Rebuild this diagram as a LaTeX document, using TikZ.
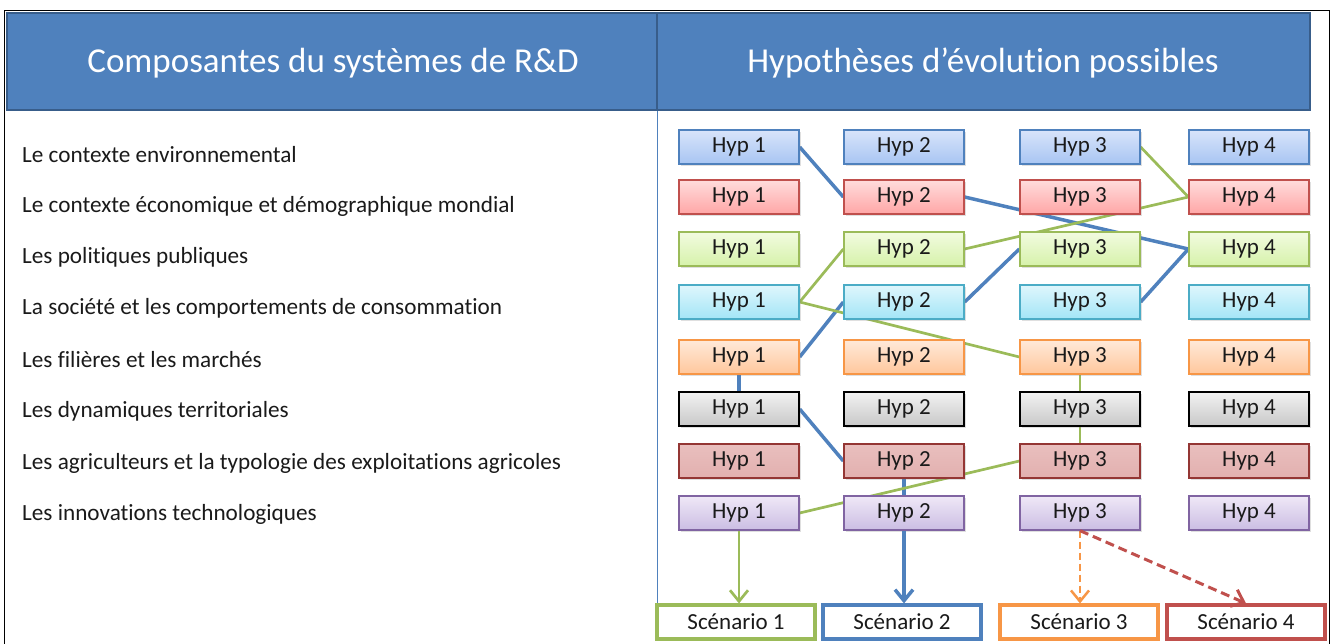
\documentclass[tikz,border=0pt]{standalone}
\usepackage{fontspec}
\setmainfont{Carlito}[Ligatures=NoCommon]
\usetikzlibrary{shadows,arrows.meta,backgrounds}
\definecolor{hdr}{HTML}{4F81BD}
\definecolor{hdrdark}{HTML}{385D8A}
\definecolor{cblue}{HTML}{4F81BD}
\definecolor{cred}{HTML}{C0504D}
\definecolor{cgreen}{HTML}{9BBB59}
\definecolor{ccyan}{HTML}{4BACC6}
\definecolor{corange}{HTML}{F79646}
\definecolor{cpurple}{HTML}{8064A2}
\definecolor{cdred}{HTML}{943634}
\definecolor{lblue}{HTML}{4F81BD}
\definecolor{textc}{HTML}{1A1A1A}
\begin{document}
\begin{tikzpicture}[x=1pt,y=-1pt,
  hyp/.style={draw, line width=1.3pt, minimum width=120pt, minimum height=34pt, inner sep=0pt,
    font=\fontsize{23}{26}\selectfont, text=textc,
    drop shadow={opacity=0.25, shadow xshift=1.5pt, shadow yshift=-2pt}},
  r1/.style={hyp, draw=cblue, top color={rgb,255:red,216;green,228;blue,250}, bottom color={rgb,255:red,168;green,197;blue,243}},
  r2/.style={hyp, draw=cred, top color={rgb,255:red,255;green,220;blue,220}, bottom color={rgb,255:red,255;green,166;blue,166}},
  r3/.style={hyp, draw=cgreen, top color={rgb,255:red,242;green,251;blue,224}, bottom color={rgb,255:red,214;green,242;blue,170}},
  r4/.style={hyp, draw=ccyan, top color={rgb,255:red,223;green,246;blue,252}, bottom color={rgb,255:red,163;green,229;blue,247}},
  r5/.style={hyp, draw=corange, top color={rgb,255:red,255;green,233;blue,217}, bottom color={rgb,255:red,255;green,199;blue,156}},
  r6/.style={hyp, draw=black, top color={rgb,255:red,242;green,242;blue,242}, bottom color={rgb,255:red,200;green,200;blue,200}},
  r7/.style={hyp, draw=cdred, top color={rgb,255:red,233;green,191;blue,190}, bottom color={rgb,255:red,226;green,176;blue,175}},
  r8/.style={hyp, draw=cpurple, top color={rgb,255:red,239;green,232;blue,247}, bottom color={rgb,255:red,203;green,189;blue,227}},
  comp/.style={anchor=west, inner sep=0pt, font=\fontsize{23.2}{26}\selectfont, text=textc},
  title/.style={font=\fontsize{35}{40}\selectfont, text=white, inner sep=0pt},
  scen/.style={draw=#1, line width=3.2pt, fill=white, minimum width=158pt, minimum height=34pt, inner sep=0pt,
    font=\fontsize{23}{26}\selectfont, text=textc},
  bl/.style={draw=cblue, line width=3.5pt},
  gl/.style={draw=cgreen, line width=2.7pt},
  tip/.style={-{Straight Barb[length=11pt,width=18pt]}}
]
\useasboundingbox (0,0) rectangle (1334,643);
% outer frame
\draw[black, line width=1pt] (4,10) rectangle (1329,660);
% header
\draw[fill=hdr, draw=hdrdark, line width=2.2pt] (7,13) rectangle (1310,110);
\draw[hdrdark, line width=2.2pt] (657,13) -- (657,110);
\node[title] (t1) at (333,63) {Composantes du systèmes de R\&D};
\node[title] (t2) at (983,63) {Hypothèses d’évolution possibles};
% components
\node[comp] (c1) at (22,155) {Le contexte environnemental};
\node[comp] (c2) at (22,206) {Le contexte économique et démographique mondial};
\node[comp] (c3) at (22,257) {Les politiques publiques};
\node[comp] (c4) at (22,308) {La société et les comportements de consommation};
\node[comp] (c5) at (22,360) {Les filières et les marchés};
\node[comp] (c6) at (22,411) {Les dynamiques territoriales};
\node[comp] (c7) at (22,463) {Les agriculteurs et la typologie des exploitations agricoles};
\node[comp] (c8) at (22,514) {Les innovations technologiques};
% scenarios
\node[scen=cgreen] (s1) at (736,622) {Scénario 1};
\node[scen=cblue] (s2) at (902,622) {Scénario 2};
\node[scen=corange] (s3) at (1079,622) {Scénario 3};
\node[scen=cred] (s4) at (1246,622) {Scénario 4};
% separator
\coordinate (sepTop) at (657,111);
\draw[lblue, line width=1pt] (sepTop) -- (sepTop |- s1.north);
% hypotheses grid
\foreach \r/\y in {1/147,2/197,3/249,4/302,5/357,6/409,7/461,8/513}{
  \foreach \c/\x in {1/739,2/904,3/1080,4/1249}{
    \node[r\r] (h\r\c) at (\x,\y) {Hyp \c};
  }
}
\begin{pgfonlayer}{background}
  % blue path
  \draw[bl] (h11.east) -- (h22.west);
  \draw[bl] (h22.east) -- (h34.west);
  \draw[bl] (h34.west) -- (h43.east);
  \draw[bl] (h42.east) -- (h33.west);
  \draw[bl] (h51.east) -- (h42.west);
  \draw[bl] (h51.south) -- (h61.north);
  \draw[bl] (h61.east) -- (h72.west);
  \draw[bl] (h72.south) -- (h82.north);
  % green path
  \draw[gl] (h13.east) -- (h24.west);
  \draw[gl] (h24.west) -- (h32.east);
  \draw[gl] (h32.west) -- (h41.east);
  \draw[gl] (h41.east) -- (h53.west);
  \draw[gl] (h53.south) -- (h63.north);
  \draw[gl] (h63.south) -- (h73.north);
  \draw[gl] (h73.west) -- (h81.east);
\end{pgfonlayer}
% scenario arrows
\draw[gl, tip] (h81.south) -- (h81.south |- s1.north);
\draw[bl, tip] (h82.south) -- (h82.south |- s2.north);
\draw[corange, line width=2.5pt, dash pattern=on 7pt off 4pt, tip] (h83.south) -- (h83.south |- s3.north);
\draw[cred, line width=3pt, dash pattern=on 9pt off 5pt, tip] (h83.south) -- (s4.north);
\end{tikzpicture}
\end{document}
